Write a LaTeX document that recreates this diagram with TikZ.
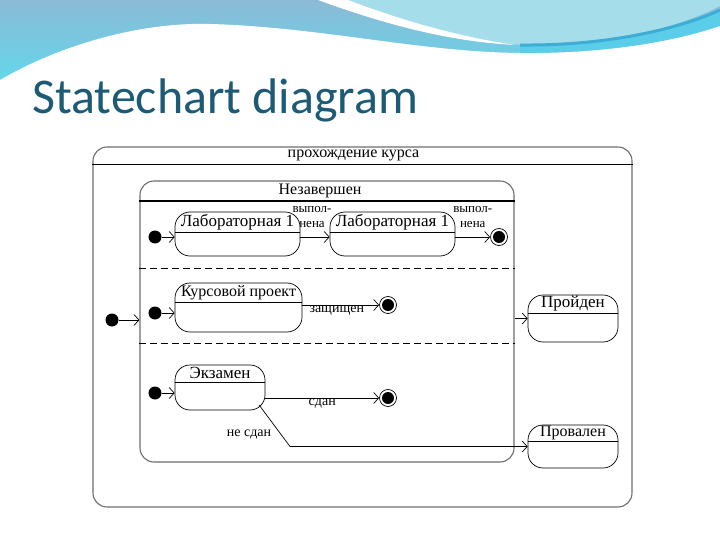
\documentclass[tikz,border=0pt]{standalone}
\usepackage{fontspec}
\setmainfont{Liberation Serif}
\newfontfamily\titlefont{Carlito}
\usepackage{tikz}
\usetikzlibrary{arrows.meta,positioning,calc}
\definecolor{hdtop}{HTML}{8BBAD6}
\definecolor{hdbot}{HTML}{5CDCEE}
\definecolor{hdband}{HTML}{5ACDE8}
\definecolor{hdlight}{HTML}{A6DDEB}
\definecolor{hdstripe}{HTML}{3DADD6}
\definecolor{titleblue}{HTML}{1C5A75}
\definecolor{boxgray}{HTML}{6E6E6E}
\tikzset{
  comp/.style={draw=boxgray,line width=1.1pt,rounded corners=14pt},
  st/.style={draw,line width=0.7pt,rounded corners=15pt},
  sthead/.style={anchor=north,inner sep=1pt,font=\fontsize{16}{17}\selectfont},
  initst/.style={circle,fill=black,minimum size=13pt,inner sep=0pt},
  finst/.style={circle,draw,line width=0.7pt,minimum size=17pt,inner sep=0pt,
    path picture={\fill (path picture bounding box.center) circle (6pt);}},
  arr/.style={-{Straight Barb[length=5pt,width=11pt]},line width=0.7pt},
  lab/.style={font=\fontsize{14}{15}\selectfont,inner sep=1pt},
  dlab/.style={lab,align=center,font=\fontsize{13}{15}\selectfont},
  sep/.style={line width=0.8pt,dash pattern=on 7pt off 4pt},
}
\begin{document}
\begin{tikzpicture}[x=1pt,y=-1pt]
\useasboundingbox (0,0) rectangle (720,540);
% slide header
\fill[white] (0,0) rectangle (720,540);
\shade[top color=hdtop,bottom color=hdbot] (0,0) rectangle (720,95);
\fill[hdband] (520,44) .. controls (620,46) and (690,24) .. (720,10) -- (720,60) -- (520,60) -- cycle;
\fill[hdlight] (330,0) .. controls (400,25) and (470,44) .. (530,45) .. controls (620,46) and (690,22) .. (720,6) -- (720,0) -- cycle;
\draw[hdstripe,line width=3pt] (520,45) .. controls (620,46) and (690,24) .. (720,10);
\fill[white] (318,0) .. controls (400,30) and (460,42) .. (515,45) .. controls (460,37) and (400,20) .. (348,0) -- cycle;
\fill[white] (0,80) .. controls (60,45) and (140,22) .. (210,24) .. controls (320,27) and (420,52) .. (520,53) .. controls (610,54) and (680,40) .. (720,26) -- (720,540) -- (0,540) -- cycle;
\node[anchor=base west,inner sep=0pt,text=titleblue,font=\titlefont\fontsize{50}{56}\selectfont] (title) at (32,114) {Statechart diagram};

% composite states
\node[comp,minimum width=539pt,minimum height=360pt] (course) at (362.5,327) {};
\node[sthead,minimum height=18pt] (courset) at ([xshift=-9pt]course.north) {прохождение курса};
\draw[line width=0.9pt] (course.west |- courset.south) -- (course.east |- courset.south);
\node[comp,minimum width=374pt,minimum height=281pt] (incomp) at (327,321.5) {};
\node[sthead,minimum height=20pt] (incompt) at ([xshift=-7pt]incomp.north) {Незавершен};
\draw[line width=1.8pt] (incomp.west |- incompt.south) -- (incomp.east |- incompt.south);
\draw[sep] (incomp.west |- 0,268) -- (incomp.east |- 0,268);
\draw[sep] (incomp.west |- 0,343) -- (incomp.east |- 0,343);

% labs
\node[initst] (i1) at (155,237) {};
\node[st,minimum width=125pt,minimum height=44pt] (lab1) at (237.5,234) {};
\node[sthead,minimum height=20pt,font=\fontsize{17}{18}\selectfont] (lab1t) at (lab1.north) {Лабораторная 1};
\draw (lab1.west |- lab1t.south) -- (lab1.east |- lab1t.south);
\node[st,minimum width=125pt,minimum height=44pt] (lab2) at (392.5,234) {};
\node[sthead,minimum height=20pt,font=\fontsize{17}{18}\selectfont] (lab2t) at (lab2.north) {Лабораторная 1};
\draw (lab2.west |- lab2t.south) -- (lab2.east |- lab2t.south);
\node[finst] (f1) at (499,237) {};
\draw[arr] (i1) -- (i1 -| lab1.west);
\draw[arr] (lab1.east |- i1) -- (lab2.west |- i1)
  node[dlab,midway,above,yshift=8pt,xshift=-3pt] {выпол-\\нена};
\draw[arr] (lab2.east |- i1) -- (f1)
  node[dlab,midway,above,yshift=8pt] {выпол-\\нена};

% project
\node[initst] (i2) at (155,313) {};
\node[st,minimum width=127pt,minimum height=49pt] (kp) at (238.5,307.5) {};
\node[sthead,minimum height=19pt] (kpt) at (kp.north) {Курсовой проект};
\draw (kp.west |- kpt.south) -- (kp.east |- kpt.south);
\node[finst] (f2) at (388,305) {};
\draw[arr] (i2) -- (i2 -| kp.west);
\draw[arr] (f2 -| kp.east) -- (f2) node[lab,midway,below,xshift=-4pt] {защищен};

% exam
\node[initst] (i3) at (155,393) {};
\node[st,minimum width=90pt,minimum height=45pt] (exam) at (220,387.5) {};
\node[sthead,minimum height=17pt,font=\fontsize{17}{18}\selectfont] (examt) at (exam.north) {Экзамен};
\draw (exam.west |- examt.south) -- (exam.east |- examt.south);
\node[finst] (f3) at (388,398) {};
\draw[arr] (i3) -- (i3 -| exam.west);
\draw[arr] (f3 -| exam.east) -- (f3) node[lab,midway,below] {сдан};

% results
\node[st,minimum width=90pt,minimum height=47pt] (pass) at (573,318.5) {};
\node[sthead,minimum height=18pt,font=\fontsize{17}{18}\selectfont] (passt) at (pass.north) {Пройден};
\draw (pass.west |- passt.south) -- (pass.east |- passt.south);
\node[st,minimum width=90pt,minimum height=43pt] (fail) at (573,446.5) {};
\node[sthead,minimum height=16pt] (failt) at (fail.north) {Провален};
\draw (fail.west |- failt.south) -- (fail.east |- failt.south);

\node[initst] (i0) at (112,320) {};
\draw[arr] (i0) -- (i0 -| incomp.west);
\draw[arr] (incomp.east |- pass) -- (pass.west);
\coordinate (nsbend) at (290,446.5);
\draw[arr] ([xshift=-6pt,yshift=5pt]exam.south east) -- (nsbend) -- (fail.west);
\node[lab] (nslab) at (249,435) {не сдан};
\end{tikzpicture}
\end{document}
